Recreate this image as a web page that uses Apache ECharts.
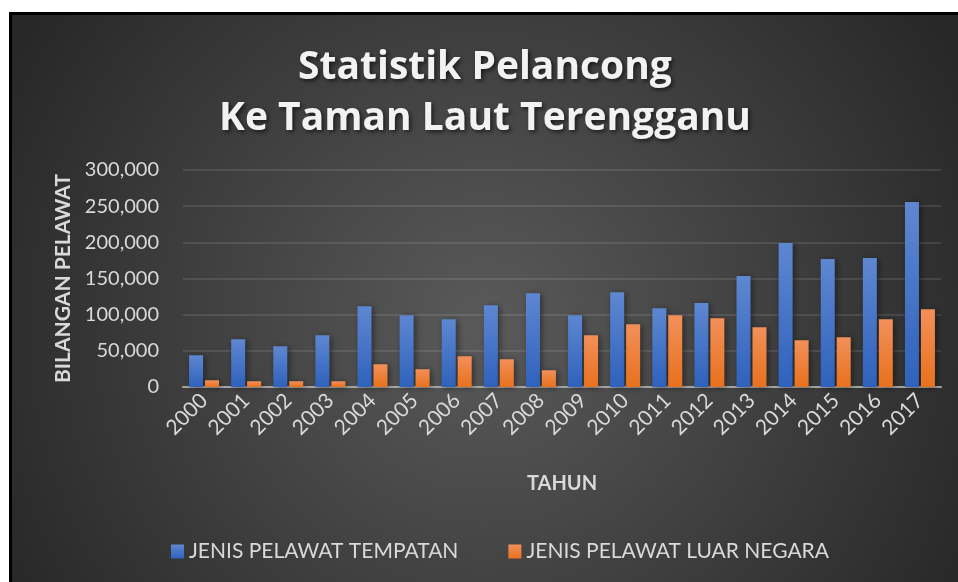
<!DOCTYPE html>
<html>
<head>
<meta charset="utf-8">
<script src="https://cdn.jsdelivr.net/npm/echarts@6/dist/echarts.min.js"></script>
<style>
  html, body { margin: 0; padding: 0; background: #fff; }
  .frame {
    position: absolute; left: 9px; top: 12px;
    border-left: 3px solid #000; border-top: 3px solid #000;
  }
  #chart { width: 946px; height: 567px; }
</style>
</head>
<body>
<div class="frame"><div id="chart"></div></div>
<script>
  // data
  var years = ['2000', '2001', '2002', '2003', '2004', '2005', '2006', '2007', '2008',
               '2009', '2010', '2011', '2012', '2013', '2014', '2015', '2016', '2017'];
  var tempatan = [44000, 66000, 56500, 71500, 111500, 99300, 93700, 113000, 129700,
                  99300, 131000, 109000, 116000, 153300, 199000, 176800, 178200, 255700];
  var luarNegara = [9300, 7900, 7900, 7900, 31400, 24500, 42500, 38300, 23100,
                    71600, 86800, 99300, 95100, 82700, 64700, 68800, 93700, 107600];
  var yTicks = [0, 300000, 50000];

  var txt = '#d9d9d9';
  var font = 'Lato';

  var chartDom = document.getElementById('chart');
  var myChart = echarts.init(chartDom);

  var option = {
    backgroundColor: {
      type: 'radial', x: 0.5, y: 0.55, r: 0.95,
      colorStops: [
        { offset: 0, color: '#5a5a5a' },
        { offset: 1, color: '#282828' }
      ]
    },
    textStyle: { fontFamily: font },
    title: {
      text: 'Statistik Pelancong\nKe Taman Laut Terengganu',
      left: 'center',
      top: 22,
      textStyle: {
        fontFamily: 'Open Sans',
        fontSize: 39,
        fontWeight: 'bold',
        color: '#f2f2f2',
        lineHeight: 51,
        textShadowColor: 'rgba(0,0,0,0.6)',
        textShadowBlur: 4,
        textShadowOffsetX: 2,
        textShadowOffsetY: 2
      }
    },
    legend: {
      bottom: 15,
      left: 154,
      itemWidth: 13,
      itemHeight: 14,
      itemGap: 50,
      icon: 'rect',
      textStyle: { color: txt, fontSize: 21, fontFamily: font }
    },
    grid: { left: 171, right: 17, top: 155, bottom: 195, containLabel: false },
    xAxis: {
      type: 'category',
      data: years,
      name: 'TAHUN',
      nameLocation: 'middle',
      nameGap: 87,
      nameTextStyle: { color: txt, fontSize: 20, fontWeight: 'bold', fontFamily: font },
      axisLine: { lineStyle: { color: '#a6a6a6', width: 2 } },
      axisTick: { show: false },
      axisLabel: { color: txt, fontSize: 21, rotate: 45, margin: 10, interval: 0, fontFamily: font }
    },
    yAxis: {
      type: 'value',
      min: yTicks[0],
      max: yTicks[1],
      interval: yTicks[2],
      name: 'BILANGAN PELAWAT',
      nameLocation: 'middle',
      nameGap: 108,
      nameTextStyle: { color: txt, fontSize: 21, fontWeight: 'bold', fontFamily: font },
      axisLine: { show: false },
      axisTick: { show: false },
      splitLine: { lineStyle: { color: 'rgba(255,255,255,0.1)', width: 2 } },
      axisLabel: {
        color: txt, fontSize: 20, margin: 24, fontFamily: font,
        formatter: function (v) { return v.toLocaleString('en-US'); }
      }
    },
    series: [
      {
        name: 'JENIS PELAWAT TEMPATAN',
        type: 'bar',
        data: tempatan,
        barWidth: 14,
        barGap: '14%',
        itemStyle: {
          color: {
            type: 'linear', x: 0, y: 0, x2: 0, y2: 1,
            colorStops: [{ offset: 0, color: '#5e87d1' }, { offset: 1, color: '#2f62bc' }]
          },
          shadowColor: 'rgba(0,0,0,0.45)', shadowBlur: 6, shadowOffsetX: 2, shadowOffsetY: 1
        }
      },
      {
        name: 'JENIS PELAWAT LUAR NEGARA',
        type: 'bar',
        data: luarNegara,
        barWidth: 14,
        itemStyle: {
          color: {
            type: 'linear', x: 0, y: 0, x2: 0, y2: 1,
            colorStops: [{ offset: 0, color: '#f2905a' }, { offset: 1, color: '#e8711d' }]
          },
          shadowColor: 'rgba(0,0,0,0.45)', shadowBlur: 6, shadowOffsetX: 2, shadowOffsetY: 1
        }
      }
    ]
  };

  myChart.setOption(option);
</script>
</body>
</html>
